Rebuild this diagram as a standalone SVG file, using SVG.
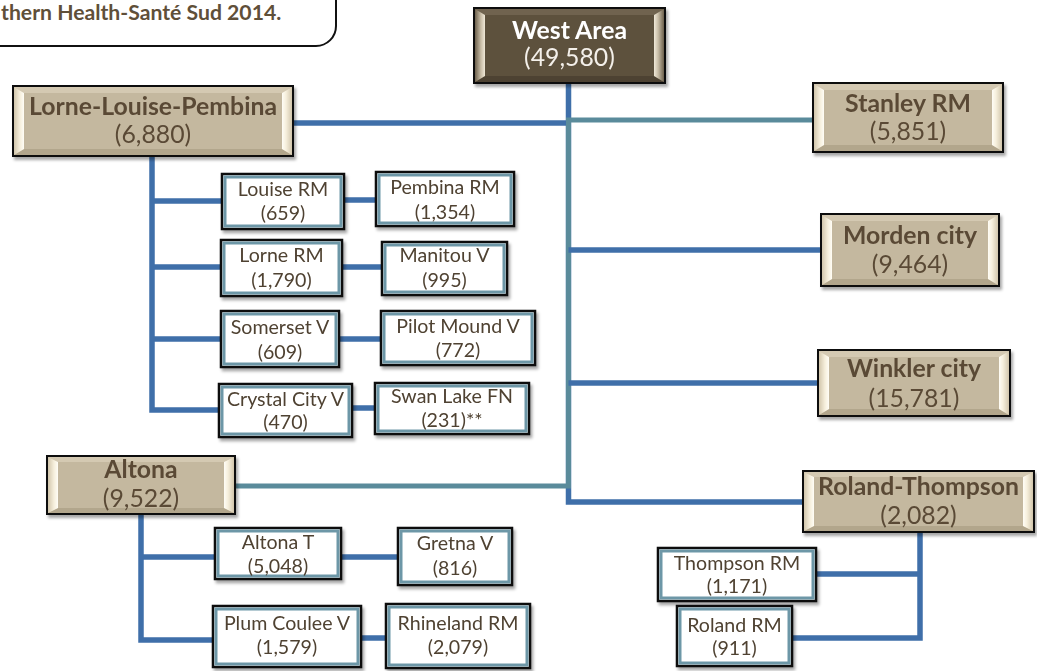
<svg xmlns="http://www.w3.org/2000/svg" width="1037" height="671" viewBox="0 0 1037 671">
  <style>
    .conn { fill: none; stroke: #3f6fa9; stroke-width: 5.5; stroke-linejoin: miter; }
    .teal { stroke: #5a8b9b; stroke-width: 5; }
    .tanbox { fill: #c4b89f; stroke: #111; stroke-width: 2; }
    .darkbox { fill: #5d513e; stroke: #111; stroke-width: 2; }
    .leaf { fill: #ffffff; stroke: #111; stroke-width: 2.5; }
    .leafband { fill: none; stroke: #6d97a7; stroke-width: 3; }
    .bt { fill: #d4c9b2; }
    .bb { fill: #b2a68c; }
    .dbt { fill: #706450; }
    .dbb { fill: #4d4232; }
    text { font-family: Lato, "Open Sans", sans-serif; text-anchor: middle; }
    .h { font-size: 24.8px; font-weight: bold; fill: #5a4a36; }
    .n { font-size: 24.8px; fill: #5a4a36; }
    .hw { font-size: 24.8px; font-weight: bold; fill: #ffffff; }
    .nw { font-size: 24.8px; fill: #f4f0ea; }
    .s { font-size: 19.6px; fill: #4f4232; }
    .note { font-size: 21.2px; font-weight: bold; fill: #5f4f39; text-anchor: start; }
  </style>
  <defs>
    <filter id="shadow" x="-10%" y="-10%" width="125%" height="135%">
      <feDropShadow dx="2" dy="3" stdDeviation="1.6" flood-color="#000" flood-opacity="0.35"/>
    </filter>
    <linearGradient id="bl" x1="0" y1="0" x2="1" y2="0">
      <stop offset="0" stop-color="#d2c6ac"/>
      <stop offset="0.6" stop-color="#f6efdc"/>
      <stop offset="1" stop-color="#fffdf6"/>
    </linearGradient>
    <linearGradient id="br" x1="1" y1="0" x2="0" y2="0">
      <stop offset="0" stop-color="#d2c6ac"/>
      <stop offset="0.6" stop-color="#f6efdc"/>
      <stop offset="1" stop-color="#fffdf6"/>
    </linearGradient>
    <linearGradient id="dl" x1="0" y1="0" x2="1" y2="0">
      <stop offset="0" stop-color="#6c604c"/>
      <stop offset="0.6" stop-color="#c9bea8"/>
      <stop offset="1" stop-color="#efe8d8"/>
    </linearGradient>
    <linearGradient id="dr" x1="1" y1="0" x2="0" y2="0">
      <stop offset="0" stop-color="#6c604c"/>
      <stop offset="0.6" stop-color="#c9bea8"/>
      <stop offset="1" stop-color="#efe8d8"/>
    </linearGradient>
  </defs>

  <!-- source note, top-left -->
  <g id="note">
    <path d="M-5,-5 H336 V26 A20,20 0 0 1 316,46 H-5 Z" fill="#fff" stroke="#111" stroke-width="2"/>
    <text class="note" x="1" y="20">thern Health-Santé Sud 2014.</text>
  </g>

  <!-- connectors -->
  <g id="connectors">
    <path class="conn" d="M568.5,83 V502 H803"/>
    <path class="conn" d="M293,123 H568.5"/>
    <path class="conn teal" d="M813,120 H568.5 V486 H235"/>
    <path class="conn" d="M568.5,250 H821"/>
    <path class="conn" d="M568.5,383 H818"/>
    <!-- Lorne-Louise-Pembina branch -->
    <path class="conn" d="M152,156 V410 H219 M152,201 H222 M152,267 H221 M152,339 H221"/>
    <path class="conn" d="M344,200 H376 M342,267 H382 M339,339 H381 M352,408 H375"/>
    <!-- Altona branch -->
    <path class="conn" d="M141,514 V640 H213 M141,557 H215 M341,557 H398 M361,638 H386"/>
    <!-- Roland-Thompson branch -->
    <path class="conn" d="M920,532 V638 H792 M920,574 H816"/>
  </g>

  <!-- West Area (root) -->
  <g id="west-area" filter="url(#shadow)">
    <rect class="darkbox" x="474" y="8" width="191" height="75"/>
    <polygon class="dbt" points="475,9 664,9 654,15 485,15"/>
    <polygon class="dbb" points="475,82 664,82 654,76 485,76"/>
    <polygon fill="url(#dl)" points="475,9 485,15 485,76 475,82"/>
    <polygon fill="url(#dr)" points="664,9 654,15 654,76 664,82"/>
    <text class="hw" x="569.5" y="39">West Area</text>
    <text class="nw" x="569.5" y="66">(49,580)</text>
  </g>

  <!-- second level -->
  <g id="lorne-louise-pembina" filter="url(#shadow)">
    <rect class="tanbox" x="13" y="86" width="280" height="70"/>
    <polygon class="bt" points="14,87 292,87 282,93 24,93"/>
    <polygon class="bb" points="14,155 292,155 282,149 24,149"/>
    <polygon fill="url(#bl)" points="14,87 24,93 24,149 14,155"/>
    <polygon fill="url(#br)" points="292,87 282,93 282,149 292,155"/>
    <text class="h" x="153" y="115">Lorne-Louise-Pembina</text>
    <text class="n" x="153" y="143">(6,880)</text>
  </g>

  <g id="stanley-rm" filter="url(#shadow)">
    <rect class="tanbox" x="813" y="83" width="190" height="69"/>
    <polygon class="bt" points="814,84 1002,84 992,90 824,90"/>
    <polygon class="bb" points="814,151 1002,151 992,145 824,145"/>
    <polygon fill="url(#bl)" points="814,84 824,90 824,145 814,151"/>
    <polygon fill="url(#br)" points="1002,84 992,90 992,145 1002,151"/>
    <text class="h" x="908" y="112">Stanley RM</text>
    <text class="n" x="908" y="140">(5,851)</text>
  </g>

  <g id="morden-city" filter="url(#shadow)">
    <rect class="tanbox" x="821" y="214" width="178" height="72"/>
    <polygon class="bt" points="822,215 998,215 988,221 832,221"/>
    <polygon class="bb" points="822,285 998,285 988,279 832,279"/>
    <polygon fill="url(#bl)" points="822,215 832,221 832,279 822,285"/>
    <polygon fill="url(#br)" points="998,215 988,221 988,279 998,285"/>
    <text class="h" x="910" y="244">Morden city</text>
    <text class="n" x="910" y="273">(9,464)</text>
  </g>

  <g id="winkler-city" filter="url(#shadow)">
    <rect class="tanbox" x="818" y="350" width="192" height="66"/>
    <polygon class="bt" points="819,351 1009,351 999,357 829,357"/>
    <polygon class="bb" points="819,415 1009,415 999,409 829,409"/>
    <polygon fill="url(#bl)" points="819,351 829,357 829,409 819,415"/>
    <polygon fill="url(#br)" points="1009,351 999,357 999,409 1009,415"/>
    <text class="h" x="914" y="377">Winkler city</text>
    <text class="n" x="914" y="407">(15,781)</text>
  </g>

  <g id="altona" filter="url(#shadow)">
    <rect class="tanbox" x="47" y="456" width="188" height="58"/>
    <polygon class="bt" points="48,457 234,457 224,462 58,462"/>
    <polygon class="bb" points="48,513 234,513 224,508 58,508"/>
    <polygon fill="url(#bl)" points="48,457 58,462 58,508 48,513"/>
    <polygon fill="url(#br)" points="234,457 224,462 224,508 234,513"/>
    <text class="h" x="141" y="478">Altona</text>
    <text class="n" x="141" y="507">(9,522)</text>
  </g>

  <g id="roland-thompson" filter="url(#shadow)">
    <rect class="tanbox" x="803" y="471" width="231" height="61"/>
    <polygon class="bt" points="804,472 1033,472 1023,477 814,477"/>
    <polygon class="bb" points="804,531 1033,531 1023,526 814,526"/>
    <polygon fill="url(#bl)" points="804,472 814,477 814,526 804,531"/>
    <polygon fill="url(#br)" points="1033,472 1023,477 1023,526 1033,531"/>
    <text class="h" x="918.5" y="495">Roland-Thompson</text>
    <text class="n" x="918.5" y="524">(2,082)</text>
  </g>

  <!-- municipalities of Lorne-Louise-Pembina -->
  <g id="louise-rm" filter="url(#shadow)">
    <rect class="leaf" x="222" y="174" width="122" height="55"/>
    <rect class="leafband" x="225" y="177" width="116" height="49"/>
    <text class="s" x="283" y="196">Louise RM</text>
    <text class="s" x="283" y="220">(659)</text>
  </g>
  <g id="pembina-rm" filter="url(#shadow)">
    <rect class="leaf" x="376" y="172" width="138" height="54"/>
    <rect class="leafband" x="379" y="175" width="132" height="48"/>
    <text class="s" x="445" y="194">Pembina RM</text>
    <text class="s" x="445" y="219">(1,354)</text>
  </g>
  <g id="lorne-rm" filter="url(#shadow)">
    <rect class="leaf" x="221" y="240" width="121" height="56"/>
    <rect class="leafband" x="224" y="243" width="115" height="50"/>
    <text class="s" x="281.5" y="262">Lorne RM</text>
    <text class="s" x="281.5" y="287">(1,790)</text>
  </g>
  <g id="manitou-v" filter="url(#shadow)">
    <rect class="leaf" x="382" y="242" width="125" height="53"/>
    <rect class="leafband" x="385" y="245" width="119" height="47"/>
    <text class="s" x="444.5" y="262">Manitou V</text>
    <text class="s" x="444.5" y="287">(995)</text>
  </g>
  <g id="somerset-v" filter="url(#shadow)">
    <rect class="leaf" x="221" y="311" width="118" height="56"/>
    <rect class="leafband" x="224" y="314" width="112" height="50"/>
    <text class="s" x="280" y="334">Somerset V</text>
    <text class="s" x="280" y="359">(609)</text>
  </g>
  <g id="pilot-mound-v" filter="url(#shadow)">
    <rect class="leaf" x="381" y="311" width="154" height="54"/>
    <rect class="leafband" x="384" y="314" width="148" height="48"/>
    <text class="s" x="458" y="333">Pilot Mound V</text>
    <text class="s" x="458" y="357">(772)</text>
  </g>
  <g id="crystal-city-v" filter="url(#shadow)">
    <rect class="leaf" x="219" y="384" width="133" height="53"/>
    <rect class="leafband" x="222" y="387" width="127" height="47"/>
    <text class="s" x="285.5" y="406">Crystal City V</text>
    <text class="s" x="285.5" y="429">(470)</text>
  </g>
  <g id="swan-lake-fn" filter="url(#shadow)">
    <rect class="leaf" x="375" y="383" width="154" height="51"/>
    <rect class="leafband" x="378" y="386" width="148" height="45"/>
    <text class="s" x="452" y="403">Swan Lake FN</text>
    <text class="s" x="452" y="427">(231)**</text>
  </g>

  <!-- municipalities of Altona -->
  <g id="altona-t" filter="url(#shadow)">
    <rect class="leaf" x="215" y="528" width="126" height="51"/>
    <rect class="leafband" x="218" y="531" width="120" height="45"/>
    <text class="s" x="278" y="549">Altona T</text>
    <text class="s" x="278" y="573">(5,048)</text>
  </g>
  <g id="gretna-v" filter="url(#shadow)">
    <rect class="leaf" x="398" y="528" width="114" height="57"/>
    <rect class="leafband" x="401" y="531" width="108" height="51"/>
    <text class="s" x="455" y="550">Gretna V</text>
    <text class="s" x="455" y="575">(816)</text>
  </g>
  <g id="plum-coulee-v" filter="url(#shadow)">
    <rect class="leaf" x="213" y="606" width="148" height="61"/>
    <rect class="leafband" x="216" y="609" width="142" height="55"/>
    <text class="s" x="287" y="630">Plum Coulee V</text>
    <text class="s" x="287" y="654">(1,579)</text>
  </g>
  <g id="rhineland-rm" filter="url(#shadow)">
    <rect class="leaf" x="386" y="604" width="144" height="64"/>
    <rect class="leafband" x="389" y="607" width="138" height="58"/>
    <text class="s" x="458" y="630">Rhineland RM</text>
    <text class="s" x="458" y="654">(2,079)</text>
  </g>

  <!-- municipalities of Roland-Thompson -->
  <g id="thompson-rm" filter="url(#shadow)">
    <rect class="leaf" x="658" y="548" width="158" height="53"/>
    <rect class="leafband" x="661" y="551" width="152" height="47"/>
    <text class="s" x="737" y="570">Thompson RM</text>
    <text class="s" x="737" y="593">(1,171)</text>
  </g>
  <g id="roland-rm" filter="url(#shadow)">
    <rect class="leaf" x="677" y="606" width="115" height="60"/>
    <rect class="leafband" x="680" y="609" width="109" height="54"/>
    <text class="s" x="734.5" y="632">Roland RM</text>
    <text class="s" x="734.5" y="655">(911)</text>
  </g>
</svg>
